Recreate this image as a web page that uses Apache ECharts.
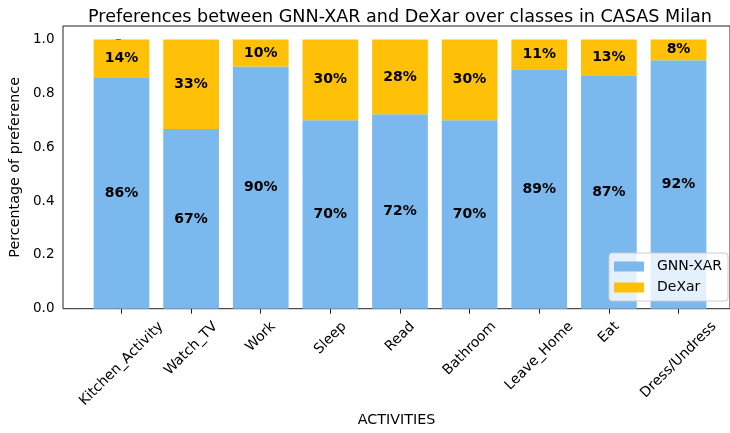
<!DOCTYPE html>
<html>
<head>
<meta charset="utf-8">
<script src="https://cdn.jsdelivr.net/npm/echarts@6/dist/echarts.min.js"></script>
<style>html,body{margin:0;padding:0;background:#fff}#c{width:730px;height:433px}</style>
</head>
<body>
<div id="c"></div>
<script>
const categories = ['Kitchen_Activity','Watch_TV','Work','Sleep','Read','Bathroom','Leave_Home','Eat','Dress/Undress'];
const gnnXar = [0.857, 0.667, 0.900, 0.700, 0.722, 0.700, 0.889, 0.867, 0.923];
const deXar  = [0.143, 0.333, 0.100, 0.300, 0.278, 0.300, 0.111, 0.133, 0.077];
const yTicks = [0, 0.2, 0.4, 0.6, 0.8, 1.0];

const FONT = '"DejaVu Sans", sans-serif';
const TICK_FS = 14;

// matplotlib-like x margins: bars span -0.4..8.4, axis -0.84..8.84
const PLOT_L = 63, PLOT_W = 674, PLOT_T = 26, PLOT_H = 282.7;
const XMIN = -0.84, XMAX = 8.84;
const UNIT = PLOT_W / (XMAX - XMIN);
const BAND_L = PLOT_L + (-0.5 - XMIN) * UNIT;
const BAND_W = categories.length * UNIT;

// per-label padding so each rotated label's bounding box is centred under its tick
const ctx = document.createElement('canvas').getContext('2d');
ctx.font = TICK_FS + 'px "DejaVu Sans"';
const rich = {};
categories.forEach((c, i) => {
  const w = ctx.measureText(c).width;
  const pad = (w + 16) / 2;
  rich['p' + i] = { fontSize: TICK_FS, fontFamily: FONT, color: '#000', padding: [pad, pad, 0, 0] };
});

const labelStyle = {
  show: true, position: 'inside', color: '#000', fontWeight: 'bold',
  fontSize: 14, fontFamily: FONT,
  formatter: p => Math.round(p.value * 100) + '%'
};

const chart = echarts.init(document.getElementById('c'), null, { renderer: 'canvas' });
chart.setOption({
  animation: false,
  title: {
    text: 'Preferences between GNN-XAR and DeXar over classes in CASAS Milan',
    left: 395, top: 3, textAlign: 'center',
    textStyle: { fontFamily: FONT, fontSize: 17.6, fontWeight: 'normal', color: '#000' }
  },
  grid: [
    { left: PLOT_L, top: PLOT_T, width: PLOT_W, height: PLOT_H, show: true, borderColor: '#222', borderWidth: 1, backgroundColor: 'transparent' },
    { left: BAND_L, top: PLOT_T, width: BAND_W, height: PLOT_H }
  ],
  legend: {
    left: 609, top: 253, orient: 'vertical', icon: 'rect',
    itemWidth: 30, itemHeight: 10, itemGap: 7,
    padding: [6.5, 6, 6.5, 5],
    borderColor: '#cccccc', borderWidth: 1, borderRadius: 3,
    backgroundColor: 'rgba(255,255,255,0.8)',
    textStyle: { fontFamily: FONT, fontSize: 14, color: '#000', lineHeight: 14, padding: [0, 0, 0, 8] },
    data: ['GNN-XAR', 'DeXar']
  },
  xAxis: [
    {
      gridIndex: 0, type: 'value', min: XMIN, max: XMAX,
      name: 'ACTIVITIES', nameLocation: 'middle', nameGap: 105,
      nameTextStyle: { fontFamily: FONT, fontSize: 14.3, color: '#000' },
      axisLine: { show: false }, splitLine: { show: false },
      axisTick: { show: false }, axisLabel: { show: false }
    },
    {
      gridIndex: 1, type: 'category', data: categories,
      axisLine: { show: false }, splitLine: { show: false },
      axisTick: { show: true, alignWithLabel: true, length: 5, lineStyle: { color: '#222' } },
      axisLabel: {
        interval: 0, rotate: 45, margin: 10, align: 'center', verticalAlign: 'middle',
        formatter: (v, i) => '{p' + i + '|' + v + '}',
        rich: rich
      }
    }
  ],
  yAxis: [
    {
      gridIndex: 0, type: 'value', min: 0, max: 1.05,
      name: 'Percentage of preference', nameLocation: 'middle', nameGap: 34,
      nameTextStyle: { fontFamily: FONT, fontSize: 14.3, color: '#000' },
      axisLine: { show: false }, splitLine: { show: false },
      axisTick: { show: true, customValues: yTicks, length: 5, lineStyle: { color: '#222' } },
      axisLabel: { customValues: yTicks, margin: 8.5, fontFamily: FONT, fontSize: 13.5, color: '#000',
        formatter: v => v.toFixed(1) }
    },
    { gridIndex: 1, type: 'value', min: 0, max: 1.05, show: false }
  ],
  series: [
    { name: 'GNN-XAR', type: 'bar', stack: 's', xAxisIndex: 1, yAxisIndex: 1, barWidth: '80%',
      itemStyle: { color: '#7ab8ee' }, label: labelStyle, data: gnnXar },
    { name: 'DeXar', type: 'bar', stack: 's', xAxisIndex: 1, yAxisIndex: 1, barWidth: '80%',
      itemStyle: { color: '#ffc107' }, label: labelStyle, data: deXar }
  ]
});
</script>
</body>
</html>
